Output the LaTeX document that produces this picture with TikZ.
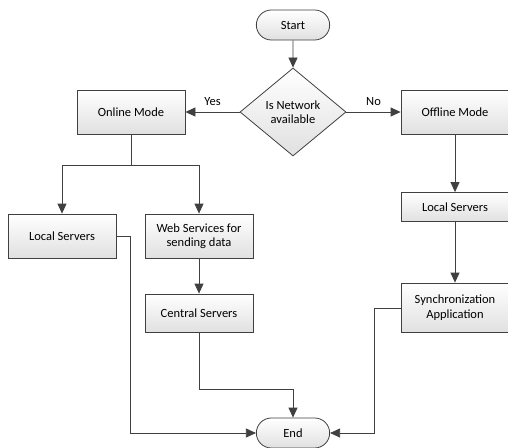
\documentclass[tikz,border=0pt]{standalone}
\usepackage{fontspec}
\setmainfont{Carlito}
\usetikzlibrary{arrows.meta,shapes.geometric,shapes.misc}
\definecolor{lineC}{HTML}{404040}
\begin{document}
\begin{tikzpicture}[x=1pt,y=-1pt,
  txt/.style={font=\fontsize{12.5}{14.5}\selectfont},
  box/.style={txt,draw=lineC,line width=0.8pt,top color=white,bottom color=black!12,
    minimum width=108pt,minimum height=44pt,align=center,inner sep=1pt},
  term/.style={txt,draw=lineC,line width=0.8pt,top color=white,bottom color=black!12,
    rounded rectangle,minimum width=80pt,minimum height=30pt},
  dec/.style={txt,draw=lineC,line width=0.8pt,top color=white,bottom color=black!12,diamond,
    minimum width=106pt,minimum height=88pt,inner sep=0pt,align=center},
  conn/.style={draw=lineC,line width=0.8pt,-{Triangle[length=10pt,width=9pt]}},
  lbl/.style={txt}]
\useasboundingbox (0,0) rectangle (508,447);
\clip (0,0) rectangle (508,447);
\fill[white] (0,0) rectangle (508,447);
\node[term] (start) at (293,25) {Start};
\node[dec] (net) at (293,112) {Is Network\\available};
\node[box] (online) at (131,112) {Online Mode};
\node[box] (offline) at (455,112) {Offline Mode};
\node[box,minimum height=44pt] (local1) at (62,236) {Local Servers};
\node[box] (web) at (199,236) {Web Services for\\sending data};
\node[box,minimum height=38pt] (central) at (199,313) {Central Servers};
\node[box,minimum height=29pt] (local2) at (455,207) {Local Servers};
\node[box,minimum height=49pt] (sync) at (455,307.5) {Synchronization\\Application};
\node[term] (end) at (293,433) {End};
\coordinate (split) at (131,165);
\draw[conn] (start) -- (net);
\draw[conn] (net) -- node[lbl,above=3pt,pos=0.5] {Yes} (online);
\draw[conn] (net) -- node[lbl,above=3pt,pos=0.5] {No} (offline);
\draw[draw=lineC,line width=0.8pt] (online) -- (split);
\draw[conn] (split) -| (local1);
\draw[conn] (split) -| (web);
\draw[conn] (web) -- (central);
\draw[conn] (offline) -- (local2);
\draw[conn] (local2) -- (sync);
\draw[conn] (local1.east) -- (130,236) |- (end.west);
\draw[conn] (central.south) |- (293,389) -- (end.north);
\draw[conn] (sync.west |- 0,308) -- (374,308) |- (end.east);
\end{tikzpicture}
\end{document}
